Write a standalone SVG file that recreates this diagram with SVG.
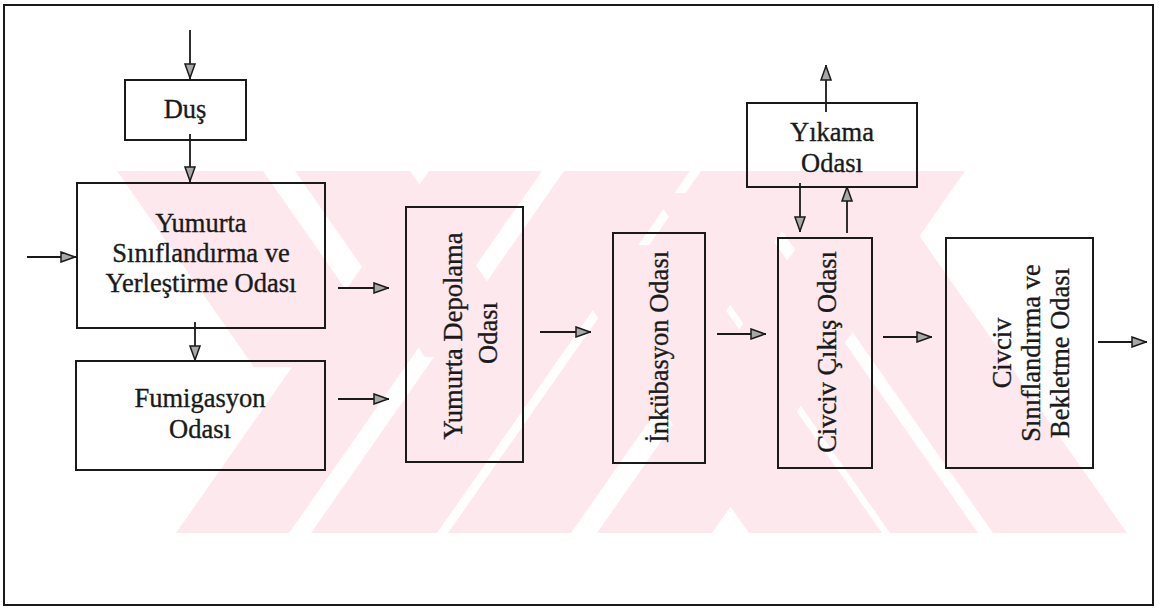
<svg xmlns="http://www.w3.org/2000/svg" width="1159" height="612" viewBox="0 0 1159 612">
<style>
.box{fill:none;stroke:#1a1a1a;stroke-width:2}
.t{font-family:"Liberation Serif","Times New Roman",serif;font-size:26.5px;fill:#1a1a1a;stroke:#1a1a1a;stroke-width:0.35;text-anchor:middle}
.c{stroke:#1a1a1a;stroke-width:1.8;fill:none;marker-end:url(#ah)}
.wm{fill:#fde8ed}
</style>
<defs>
<marker id="ah" viewBox="0 0 16 12" refX="16" refY="6" markerWidth="16" markerHeight="12" markerUnits="userSpaceOnUse" orient="auto">
<path d="M1,1 L15,6 L1,11 Z" fill="#a8a8a8" stroke="#1a1a1a" stroke-width="1.5"/>
</marker>
<clipPath id="wmclip"><rect x="100" y="171" width="1035" height="362"/></clipPath>
</defs>
<rect width="1159" height="612" fill="#ffffff"/>
<g id="watermark" clip-path="url(#wmclip)">
<polygon class="wm" points="176,533 289,533 542,171 429,171"/>
<polygon class="wm" points="311,533 437,533 690,171 564,171"/>
<polygon class="wm" points="448,533 571,533 824,171 701,171"/>
<polygon class="wm" points="597,533 712,533 965,171 850,171"/>
<polygon class="wm" points="117,171 263,171 400,367 254,367"/>
<polygon class="wm" points="295,171 410,171 540,357 425,357"/>
<polygon class="wm" points="749,533 882,533 680,245 547,245"/>
<polygon class="wm" points="890,533 978,533 740,193 652,193"/>
<polygon class="wm" points="993,533 1127,533 874,171 740,171"/>
</g>
<rect id="frame" x="4" y="5" width="1149" height="600" fill="none" stroke="#1a1a1a" stroke-width="2"/>
<g id="connectors">
<line class="c" x1="190" y1="30" x2="190" y2="79"/>
<line class="c" x1="190" y1="134" x2="190" y2="182"/>
<line class="c" x1="27" y1="257" x2="76" y2="257"/>
<line class="c" x1="195" y1="322" x2="195" y2="361"/>
<line class="c" x1="338" y1="288" x2="389" y2="288"/>
<line class="c" x1="338" y1="399" x2="389" y2="399"/>
<line class="c" x1="540" y1="332" x2="591" y2="332"/>
<line class="c" x1="717" y1="334" x2="766" y2="334"/>
<line class="c" x1="883" y1="337" x2="932" y2="337"/>
<line class="c" x1="1098" y1="342" x2="1147" y2="342"/>
<line class="c" x1="826" y1="112" x2="826" y2="65"/>
<line class="c" x1="800" y1="183" x2="800" y2="232"/>
<line class="c" x1="847" y1="233" x2="847" y2="186"/>
</g>
<g id="dus">
<rect class="box" x="125" y="80" width="121" height="60"/>
<text class="t" x="185" y="118">Duş</text>
</g>
<g id="yumurta-siniflandirma">
<rect class="box" x="77" y="183" width="248" height="145"/>
<text class="t" x="201" y="232">Yumurta</text>
<text class="t" x="201" y="262">Sınıflandırma ve</text>
<text class="t" x="201" y="292">Yerleştirme Odası</text>
</g>
<g id="fumigasyon">
<rect class="box" x="76" y="361" width="249" height="109"/>
<text class="t" x="200" y="407">Fumigasyon</text>
<text class="t" x="200" y="438">Odası</text>
</g>
<g id="depolama">
<rect class="box" x="406" y="207" width="117" height="255"/>
<text class="t" transform="translate(462,336) rotate(-90)">Yumurta Depolama</text>
<text class="t" transform="translate(497,333) rotate(-90)">Odası</text>
</g>
<g id="inkubasyon">
<rect class="box" x="613" y="233" width="92" height="230"/>
<text class="t" transform="translate(668,347) rotate(-90)">İnkübasyon Odası</text>
</g>
<g id="yikama">
<rect class="box" x="747" y="103" width="170" height="84"/>
<text class="t" x="832" y="141">Yıkama</text>
<text class="t" x="832" y="172">Odası</text>
</g>
<g id="civciv-cikis">
<rect class="box" x="778" y="238" width="94" height="230"/>
<text class="t" transform="translate(836,352) rotate(-90)">Civciv Çıkış Odası</text>
</g>
<g id="civciv-siniflandirma">
<rect class="box" x="946" y="238" width="147" height="230"/>
<text class="t" transform="translate(1011,353) rotate(-90)">Civciv</text>
<text class="t" transform="translate(1040,353) rotate(-90)">Sınıflandırma ve</text>
<text class="t" transform="translate(1069,353) rotate(-90)">Bekletme Odası</text>
</g>
</svg>
